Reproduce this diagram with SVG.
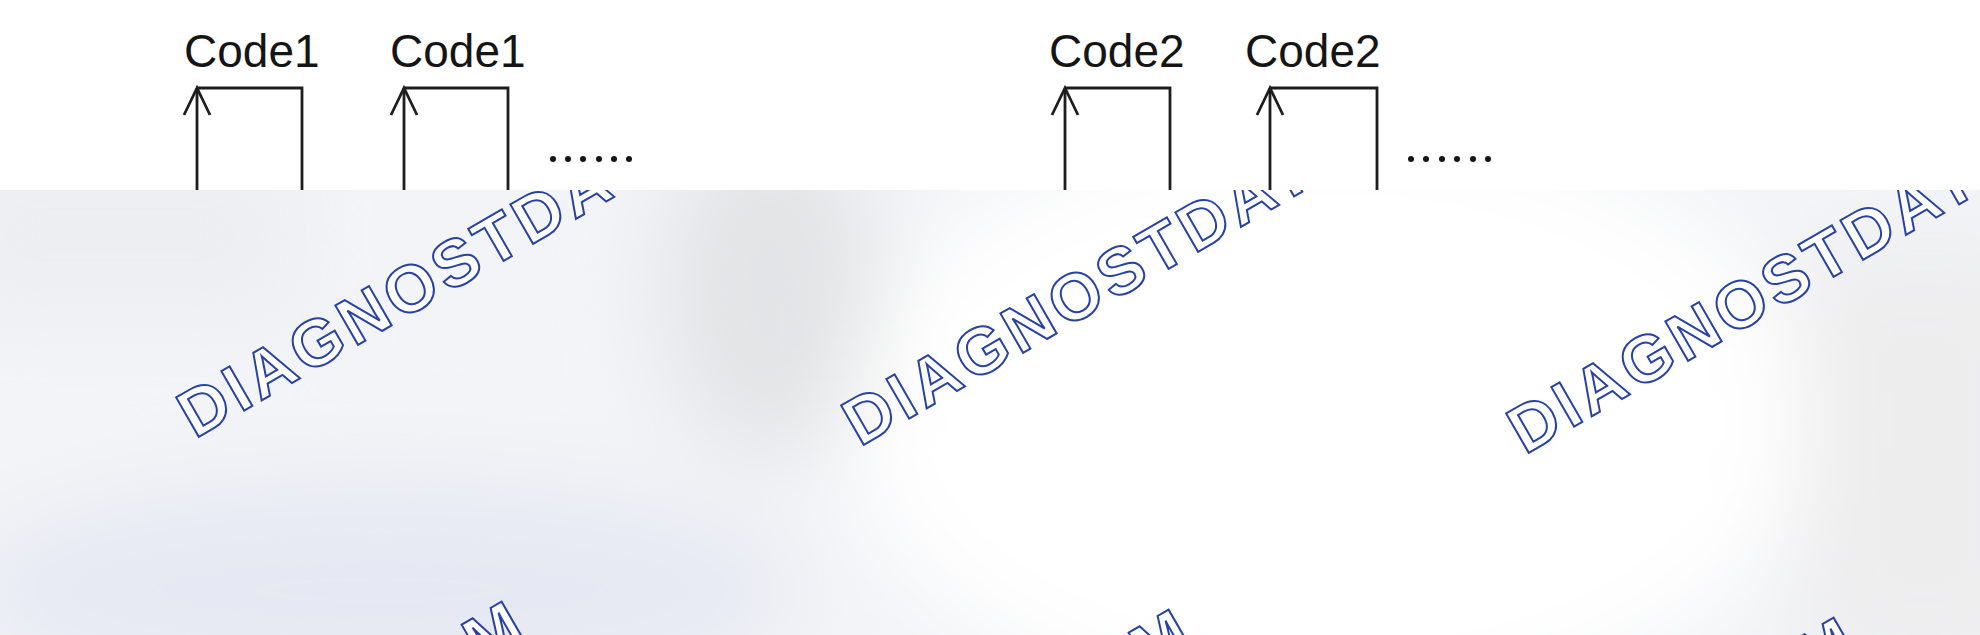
<svg xmlns="http://www.w3.org/2000/svg" width="1980" height="635" viewBox="0 0 1980 635">
<style>
.lbl{font-family:"Liberation Sans",Arial,Helvetica,sans-serif;font-size:46px;fill:#151515}
.wire{fill:none;stroke:#1e1e1e;stroke-width:2.8;stroke-linejoin:miter}
.dot{fill:#151515}
.wm{font-family:"Liberation Sans",Arial,sans-serif;font-weight:bold;font-size:66px;letter-spacing:4.7px;fill:#ffffff;stroke:#2842a4;stroke-width:2}
</style>
<defs>
<marker id="arr" viewBox="-30 -16 33 32" refX="0" refY="0" markerWidth="33" markerHeight="32" markerUnits="userSpaceOnUse" orient="auto">
<path d="M-27,-13 L0,0 L-27,13" fill="none" stroke="#1e1e1e" stroke-width="2.8"/>
</marker>
<clipPath id="lower"><rect x="0" y="190" width="1980" height="445"/></clipPath>
<filter id="soft" x="-20%" y="-20%" width="140%" height="140%"><feGaussianBlur stdDeviation="45"/></filter>
</defs>

<rect x="0" y="0" width="1980" height="635" fill="#ffffff"/>

<g id="connectors">
<path class="wire" d="M197,196 V88" marker-end="url(#arr)"/>
<path class="wire" d="M404,196 V88" marker-end="url(#arr)"/>
<path class="wire" d="M1065,196 V88" marker-end="url(#arr)"/>
<path class="wire" d="M1270,196 V88" marker-end="url(#arr)"/>
</g>

<g id="pulse-code1-a">
<text class="lbl" x="184" y="67">Code1</text>
<path class="wire" d="M197,88 H302 V196"/>
</g>
<g id="pulse-code1-b">
<text class="lbl" x="390" y="67">Code1</text>
<path class="wire" d="M404,88 H508 V196"/>
</g>
<g id="dots-1">
<circle class="dot" cx="553" cy="159" r="3"/>
<circle class="dot" cx="568" cy="159" r="3"/>
<circle class="dot" cx="583" cy="159" r="3"/>
<circle class="dot" cx="599" cy="159" r="3"/>
<circle class="dot" cx="614" cy="159" r="3"/>
<circle class="dot" cx="629" cy="159" r="3"/>
</g>
<g id="pulse-code2-a">
<text class="lbl" x="1049" y="67">Code2</text>
<path class="wire" d="M1065,88 H1170 V196"/>
</g>
<g id="pulse-code2-b">
<text class="lbl" x="1245" y="67">Code2</text>
<path class="wire" d="M1270,88 H1377 V196"/>
</g>
<g id="dots-2">
<circle class="dot" cx="1411" cy="159" r="3"/>
<circle class="dot" cx="1426" cy="159" r="3"/>
<circle class="dot" cx="1442" cy="159" r="3"/>
<circle class="dot" cx="1457" cy="159" r="3"/>
<circle class="dot" cx="1473" cy="159" r="3"/>
<circle class="dot" cx="1488" cy="159" r="3"/>
</g>

<g id="background" clip-path="url(#lower)">
<rect x="0" y="190" width="1980" height="445" fill="#f3f4f7"/>
<g filter="url(#soft)">
<ellipse cx="1330" cy="420" rx="480" ry="300" fill="#ffffff"/>
<ellipse cx="770" cy="290" rx="110" ry="170" fill="#e3e4e6"/>
<rect x="-60" y="150" width="360" height="170" fill="#eceef1"/>
<ellipse cx="380" cy="590" rx="420" ry="110" fill="#e6e9f3"/>
<rect x="1800" y="250" width="250" height="420" fill="#ededee"/>
</g>
</g>

<g id="watermarks" clip-path="url(#lower)">
<text class="wm" transform="translate(195,439) rotate(-30)">DIAGNOSTDATA.COM</text>
<text class="wm" transform="translate(860,447) rotate(-30)">DIAGNOSTDATA.COM</text>
<text class="wm" transform="translate(1525,455) rotate(-30)">DIAGNOSTDATA.COM</text>
<text class="wm" transform="translate(-134,1021) rotate(-30)">DIAGNOSTDATA.COM</text>
<text class="wm" transform="translate(533,1029) rotate(-30)">DIAGNOSTDATA.COM</text>
<text class="wm" transform="translate(1198,1037) rotate(-30)">DIAGNOSTDATA.COM</text>
</g>
</svg>
